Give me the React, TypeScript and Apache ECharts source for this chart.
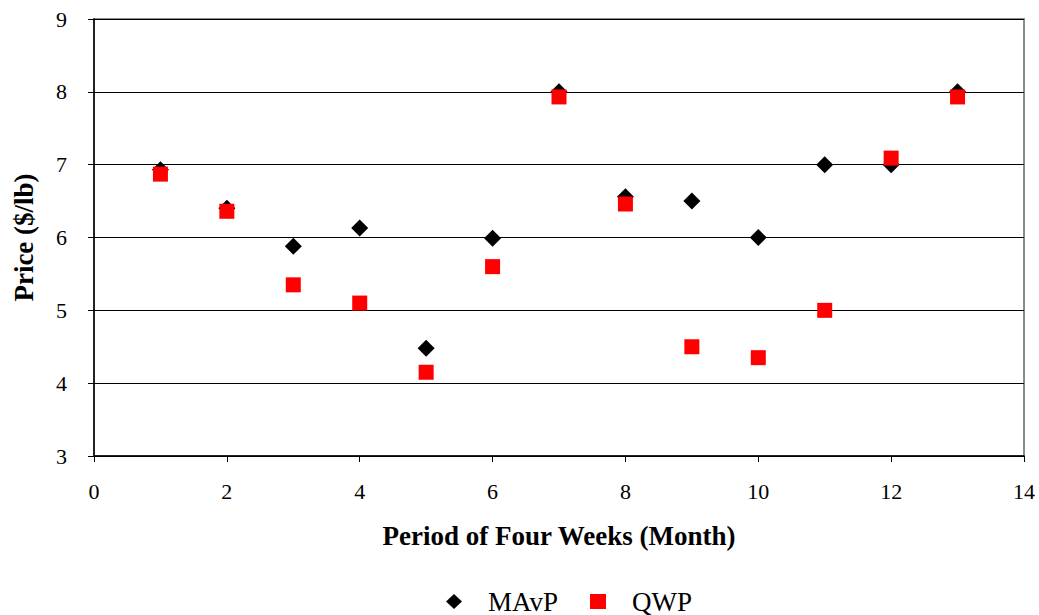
import React, { useEffect, useRef } from "react";
import * as echarts from "echarts";

// Monthly periods (four-week blocks)
const periods = [1, 2, 3, 4, 5, 6, 7, 8, 9, 10, 11, 12, 13];
// Price series in $/lb
const mavpPrices = [6.93, 6.4, 5.88, 6.13, 4.48, 5.99, 8.0, 6.56, 6.5, 6.0, 7.0, 7.0, 8.0];
const qwpPrices = [6.87, 6.36, 5.35, 5.1, 4.15, 5.6, 7.93, 6.46, 4.5, 4.35, 5.0, 7.09, 7.93];

const FONT = "'Liberation Serif', 'Times New Roman', serif";

export default function App() {
  const ref = useRef<HTMLDivElement>(null);

  useEffect(() => {
    if (!ref.current) return;
    const chart = echarts.init(ref.current, undefined, { renderer: "svg" });
    chart.setOption({
      animation: false,
      backgroundColor: "#ffffff",
      grid: {
        left: 94,
        right: 15,
        top: 19,
        bottom: 159,
        show: true,
        borderColor: "#8c8c8c",
        borderWidth: 2,
      },
      legend: {
        left: 446,
        top: 588,
        padding: 0,
        itemGap: 32,
        itemWidth: 16,
        itemHeight: 15,
        textStyle: { fontFamily: FONT, fontSize: 27, color: "#000", padding: [0, 0, 0, 21] },
        data: [
          { name: "MAvP", icon: "diamond" },
          { name: "QWP", icon: "rect" },
        ],
      },
      xAxis: {
        type: "value",
        min: 0,
        max: 14,
        interval: 2,
        name: "Period of Four Weeks (Month)",
        nameLocation: "middle",
        nameGap: 66,
        nameTextStyle: { fontFamily: FONT, fontSize: 27, fontWeight: "bold", color: "#000" },
        axisLine: { show: true, lineStyle: { color: "#000", width: 1.5 } },
        axisTick: { show: true, inside: false, length: 6, lineStyle: { color: "#000" } },
        axisLabel: { fontFamily: FONT, fontSize: 22, color: "#000", margin: 24 },
        splitLine: { show: false },
      },
      yAxis: {
        type: "value",
        min: 3,
        max: 9,
        interval: 1,
        name: "Price ($/lb)",
        nameLocation: "middle",
        nameGap: 57,
        nameTextStyle: { fontFamily: FONT, fontSize: 27, fontWeight: "bold", color: "#000" },
        axisLine: { show: true, lineStyle: { color: "#000", width: 1.5 } },
        axisTick: { show: true, inside: false, length: 6, lineStyle: { color: "#000" } },
        axisLabel: { fontFamily: FONT, fontSize: 22, color: "#000", margin: 27 },
        splitLine: { show: true, lineStyle: { color: "#000", width: 1 } },
      },
      series: [
        {
          name: "MAvP",
          type: "scatter",
          symbol: "diamond",
          symbolSize: 17,
          itemStyle: { color: "#000000", opacity: 1 },
          data: periods.map((p, i) => [p, mavpPrices[i]]),
          z: 2,
        },
        {
          name: "QWP",
          type: "scatter",
          symbol: "rect",
          symbolSize: 15,
          itemStyle: { color: "#ff0000", opacity: 1 },
          data: periods.map((p, i) => [p, qwpPrices[i]]),
          z: 3,
        },
      ],
    });
    return () => chart.dispose();
  }, []);

  return (
    <div
      ref={ref}
      style={{ position: "fixed", left: 0, top: 0, width: 1039, height: 615, background: "#fff" }}
    />
  );
}
